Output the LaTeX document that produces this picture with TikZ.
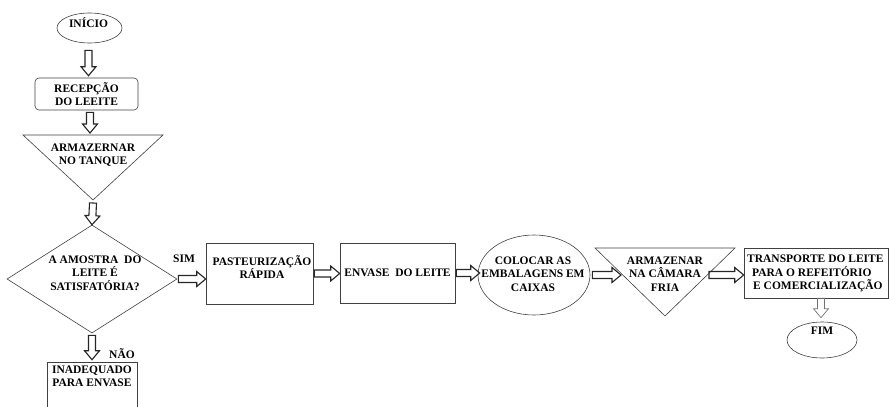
\documentclass[tikz,border=0pt]{standalone}
\usepackage{fontspec}
\setmainfont{Liberation Serif}
\usetikzlibrary{calc,shapes.geometric}
\begin{document}
\begin{tikzpicture}[x=1pt,y=-1pt,
  every node/.style={font=\fontsize{11.5}{13.5}\selectfont\bfseries, inner sep=0pt},
  shp/.style={draw=black!75, line width=0.6pt},
  txt/.style={align=center},
  blk/.style={draw=black!85, line width=1.1pt, line join=miter,
    to path={let \p1=(\tikztostart), \p2=(\tikztotarget), \p3=($(\p2)!9pt!(\p1)$) in
      ($(\p1)!3.5pt!90:(\p2)$) -- ($(\p3)!3.5pt!90:(\p2)$) -- ($(\p3)!7.5pt!90:(\p2)$) -- (\p2)
      -- ($(\p3)!7.5pt!-90:(\p2)$) -- ($(\p3)!3.5pt!-90:(\p2)$) -- ($(\p1)!3.5pt!-90:(\p2)$) -- cycle}},
  thinblk/.style={blk, draw=gray!90!black, line width=0.7pt},
]
\useasboundingbox (0,0) rectangle (889,407);
\clip (0,0) rectangle (889,407);

% start
\node[shp, ellipse, minimum width=65pt, minimum height=30pt] (inicio) at (89.5,28) {};
\node (iniciot) at (88.5,23) {INÍCIO};

% reception
\node[shp, rounded corners=4pt, minimum width=103pt, minimum height=32pt, txt] (recep) at (86.5,94) {RECEPÇÃO\\DO LEEITE};

% storage tank triangle
\coordinate (t1a) at (23,135);
\coordinate (t1b) at (163,135);
\coordinate (t1c) at (93,200);
\coordinate (t1m) at (93,135);
\draw[shp] (t1a) -- (t1b) -- (t1c) -- cycle;
\node[txt] (t1t) at (93,155) {ARMAZERNAR\\NO TANQUE};

% decision
\node[shp, diamond, minimum width=170pt, minimum height=108pt] (dia) at (92,279) {};
\node[txt] (diat) at (95,273) {A AMOSTRA\ \ DO\\LEITE É\\SATISFATÓRIA?};
\node (sim) at (184,259) {SIM};
\node (nao) at (122,354) {NÃO};

% pasteurization
\node[shp, minimum width=107pt, minimum height=61pt] (past) at (259.5,273.5) {};
\node[txt] (pastt) at (262,267) {PASTEURIZAÇÃO\\RÁPIDA};

% envase
\node[shp, minimum width=115pt, minimum height=60pt] (envase) at (397.5,273) {ENVASE\ \ DO LEITE};

% boxes ellipse
\node[shp, ellipse, minimum width=112pt, minimum height=80pt] (col) at (534,275) {};
\node[txt] (colt) at (533,274) {COLOCAR AS\\EMBALAGENS EM\\CAIXAS};

% cold storage triangle
\coordinate (t2a) at (595,248);
\coordinate (t2b) at (735,248);
\coordinate (t2c) at (665,316);
\coordinate (t2e) at (621,275);
\coordinate (t2f) at (709,275);
\draw[shp] (t2a) -- (t2b) -- (t2c) -- cycle;
\node[txt] (t2t) at (665,274) {ARMAZENAR\\NA CÂMARA\\FRIA};

% transport
\node[shp, minimum width=144pt, minimum height=50pt] (transp) at (816,273) {};
\node[align=left, anchor=west] (transpt) at (747,273.5) {TRANSPORTE DO LEITE\\\hspace*{5pt}PARA O REFEITÓRIO\\\hspace*{6pt}E COMERCIALIZAÇÃO};

% end
\node[shp, ellipse, minimum width=70pt, minimum height=36pt] (fim) at (822,340) {};
\node (fimt) at (822,331) {FIM};

% not adequate
\node[shp, minimum width=90pt, minimum height=68pt] (inad) at (92,396) {};
\node[txt] (inadt) at (92,376.5) {INADEQUADO\\PARA ENVASE};

% arrows
\draw[blk] ([xshift=-1pt,yshift=-7pt]inicio.south) to ([xshift=2pt,yshift=2pt]recep.north);
\draw[blk] ([xshift=3.5pt,yshift=-2pt]recep.south) to ([xshift=-3pt,yshift=2pt]t1m);
\draw[blk] ([yshift=-3pt]t1c) to (dia.north);
\draw[blk] ([xshift=1pt]dia.east) to (past.west |- dia.east);
\draw[blk] ([xshift=1pt]past.east) to (envase.west |- past.east);
\draw[blk] ([xshift=1pt]envase.east) to ([xshift=2pt]col.west |- envase.east);
\draw[blk] ([xshift=2pt]col.east) to (t2e);
\draw[blk] (t2f) to (transp.west |- t2f);
\draw[thinblk] ([xshift=5pt]transp.south) to ([xshift=-1pt,yshift=4pt]fim.north);
\draw[blk] ([yshift=-2pt]dia.south) to ([yshift=2pt]inad.north);
\end{tikzpicture}
\end{document}
